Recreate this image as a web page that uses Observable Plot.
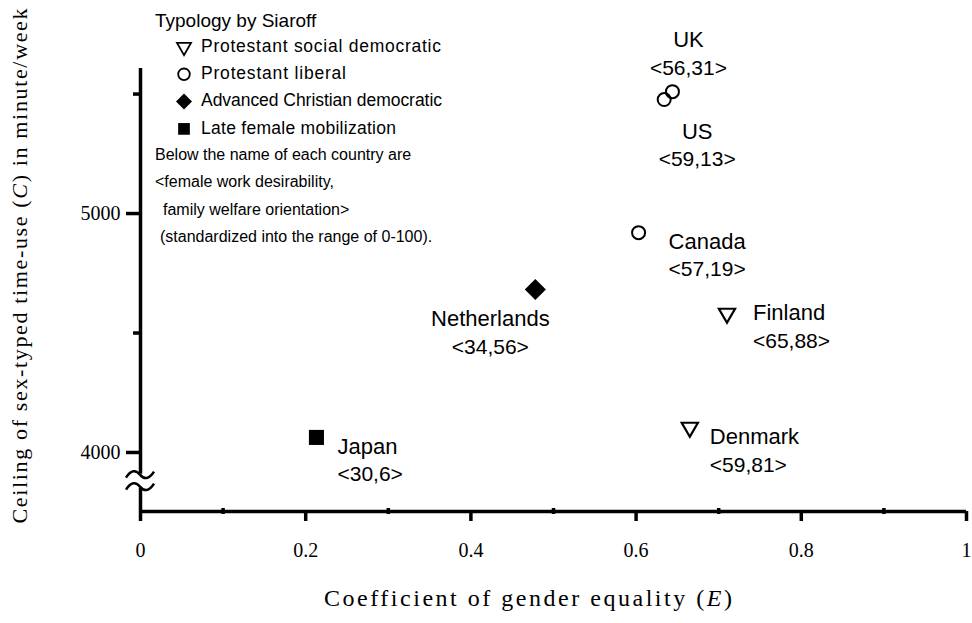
<!DOCTYPE html>
<html><head><meta charset="utf-8">
<script src="https://cdn.jsdelivr.net/npm/d3@7"></script>
<script src="https://cdn.jsdelivr.net/npm/@observablehq/plot@0.6"></script>
<style>body{margin:0;background:#fff} #chart{width:972px;height:623px}</style>
</head><body><div id="chart"></div>
<script>
// ---- data ----
const countries = ["Japan","Netherlands","Canada","Finland","Denmark","UK","US"];
const equality  = [0.213, 0.478, 0.603, 0.710, 0.665, 0.644, 0.634];   // E
const ceiling   = [4063, 4682, 4920, 4582, 4105, 5510, 5477];          // C
const typology  = ["Late female mobilization","Advanced Christian democratic","Protestant liberal",
                   "Protestant social democratic","Protestant social democratic","Protestant liberal","Protestant liberal"];
const workDesirability = [30, 34, 57, 65, 59, 56, 59];
const familyWelfare    = [6, 56, 19, 88, 81, 31, 13];
const typologyOrder = ["Protestant social democratic","Protestant liberal","Advanced Christian democratic","Late female mobilization"];
const xTicks = [0, 0.2, 0.4, 0.6, 0.8, 1];
const xMinorTicks = [0.1, 0.3, 0.5, 0.7, 0.9];
const yTicks = [4000, 5000];
const yMinorTicks = [4500, 5500];
const yDomain = [3753, 5607];
const yBreak = 3880;
const legendTitle = "Typology by Siaroff";
const noteLines = ["Below the name of each country are", "<female work desirability,", "family welfare orientation>", "(standardized into the range of 0-100)."];

// ---- styling / layout ----
const SANS = "'Liberation Sans', Arial, sans-serif";
const SERIF = "'Liberation Serif', 'Times New Roman', serif";
const symbolStyle = {
  "Protestant social democratic": {symbol: "triangle", r: 6, rotate: 180, fill: "none", stroke: "black", strokeWidth: 2.2, d3type: d3.symbolTriangle, legendR: 5.2},
  "Protestant liberal":           {symbol: "circle", r: 6.5, rotate: 0, fill: "none", stroke: "black", strokeWidth: 2, d3type: d3.symbolCircle, legendR: 5.8},
  "Advanced Christian democratic":{symbol: "diamond2", r: 9.5, rotate: 0, fill: "black", stroke: "none", strokeWidth: 0, d3type: d3.symbolDiamond2, legendR: 7.2},
  "Late female mobilization":     {symbol: "square", r: 8.5, rotate: 0, fill: "black", stroke: "none", strokeWidth: 0, d3type: d3.symbolSquare, legendR: 6.6}
};
const legendTextLength = [240, 145, 241, 195];
const noteX = [155, 155, 163, 160];
const labelLayout = {
  Japan:       {anchor: "start",  dx: 21,  dy: [10, 37]},
  Netherlands: {anchor: "middle", dx: -45, dy: [29, 58]},
  Canada:      {anchor: "start",  dx: 30,  dy: [9, 37]},
  Finland:     {anchor: "start",  dx: 26,  dy: [0, 28]},
  Denmark:     {anchor: "start",  dx: 20,  dy: [10, 38]},
  UK:          {anchor: "middle", dx: 16,  dy: [-52, -23]},
  US:          {anchor: "middle", dx: 33,  dy: [32, 60]}
};

const data = countries.map((c, i) => ({
  country: c, E: equality[i], C: ceiling[i], type: typology[i],
  w: workDesirability[i], f: familyWelfare[i]
}));

const dotMarks = typologyOrder.map(t => {
  const s = symbolStyle[t];
  return Plot.dot(data.filter(d => d.type === t), {
    x: "E", y: "C", symbol: s.symbol, r: s.r, rotate: s.rotate,
    fill: s.fill, stroke: s.stroke, strokeWidth: s.strokeWidth
  });
});

const labelMarks = data.flatMap(d => {
  const L = labelLayout[d.country];
  return [
    Plot.text([d], {x: "E", y: "C", text: "country", dx: L.dx, dy: L.dy[0], textAnchor: L.anchor, fontSize: 22, fontFamily: SANS, fill: "black"}),
    Plot.text([d], {x: "E", y: "C", text: v => `<${v.w},${v.f}>`, dx: L.dx, dy: L.dy[1], textAnchor: L.anchor, fontSize: 21, fontFamily: SANS, fill: "black"})
  ];
});

const plot = Plot.plot({
  width: 972, height: 623,
  marginTop: 68, marginBottom: 112, marginLeft: 140, marginRight: 6,
  x: {domain: [0, 1]},
  y: {domain: yDomain},
  style: {fontFamily: SANS, background: "white", color: "black", overflow: "visible"},
  marks: [
    Plot.ruleX([0], {strokeWidth: 3.5}),
    Plot.ruleY([yDomain[0]], {strokeWidth: 3.5}),
    Plot.axisX(xTicks, {tickSize: 10, tickPadding: 21, strokeWidth: 3.5, tickFormat: d => String(d), label: null}),
    Plot.axisX(xMinorTicks, {tickSize: 6, dy: -3, strokeWidth: 3.5, tickFormat: () => "", label: null}),
    Plot.axisY(yTicks, {tickSize: 14, tickPadding: 6, strokeWidth: 3.5, tickFormat: d => String(d), label: null}),
    Plot.axisY(yMinorTicks, {tickSize: 7, strokeWidth: 3.5, tickFormat: () => "", label: null}),
    ...dotMarks,
    ...labelMarks
  ]
});

document.getElementById("chart").append(plot);

const svg = d3.select(plot);
// tick label typography
svg.selectAll('g[aria-label$="tick label"]')
  .attr("font-size", 20).attr("font-family", SERIF).style("font-size", "20px").style("font-family", SERIF);

// ---- decorations: axis break, axis titles, legend ----
const xs = plot.scale("x"), ys = plot.scale("y");
const ax = xs.apply(0), by = ys.apply(yBreak);
svg.append("rect").attr("x", ax - 4).attr("y", by - 7).attr("width", 8).attr("height", 14).attr("fill", "white");
[-6, 6].forEach(off => {
  const y0 = by + off;
  svg.append("path")
    .attr("d", `M${ax-14},${y0+3} C${ax-9},${y0-5} ${ax-4},${y0-5} ${ax},${y0} C${ax+4},${y0+5} ${ax+9},${y0+5} ${ax+14},${y0-3}`)
    .attr("fill", "none").attr("stroke", "black").attr("stroke-width", 2.5);
});

const yl = svg.append("text").attr("transform", "translate(22,266) rotate(-90)")
  .attr("text-anchor", "middle").attr("dominant-baseline", "middle")
  .attr("font-family", SERIF).attr("font-size", 22).attr("fill", "black")
  .attr("textLength", 515).attr("lengthAdjust", "spacing");
yl.append("tspan").text("Ceiling of sex-typed time-use (");
yl.append("tspan").attr("font-style", "italic").text("C");
yl.append("tspan").text(") in minute/week");

const xl = svg.append("text").attr("x", 528).attr("y", 600)
  .attr("text-anchor", "middle").attr("dominant-baseline", "middle")
  .attr("font-family", SERIF).attr("font-size", 24).attr("fill", "black")
  .attr("textLength", 408).attr("lengthAdjust", "spacing");
xl.append("tspan").text("Coefficient of gender equality (");
xl.append("tspan").attr("font-style", "italic").text("E");
xl.append("tspan").text(")");

const lg = svg.append("g").attr("font-family", SANS).attr("fill", "black").attr("text-anchor", "start");
lg.append("text").attr("x", 155).attr("y", 22).attr("dominant-baseline", "middle").attr("font-size", 19).text(legendTitle);
typologyOrder.forEach((t, i) => {
  const s = symbolStyle[t];
  const yy = 47 + i * 27.3;
  const size = Math.PI * s.legendR ** 2;
  lg.append("path").attr("d", d3.symbol(s.d3type, size)())
    .attr("transform", `translate(184,${yy}) rotate(${s.rotate})`)
    .attr("fill", s.fill === "none" ? "none" : "black").attr("stroke", s.stroke).attr("stroke-width", 1.8);
  lg.append("text").attr("x", 201).attr("y", yy).attr("dominant-baseline", "middle").attr("font-size", 17.5)
    .attr("textLength", legendTextLength[i]).attr("lengthAdjust", "spacing").text(t);
});
noteLines.forEach((s, i) => {
  lg.append("text").attr("x", noteX[i]).attr("y", 156 + i * 27.2).attr("dominant-baseline", "middle")
    .attr("font-size", 16).text(s);
});
</script>
</body></html>
